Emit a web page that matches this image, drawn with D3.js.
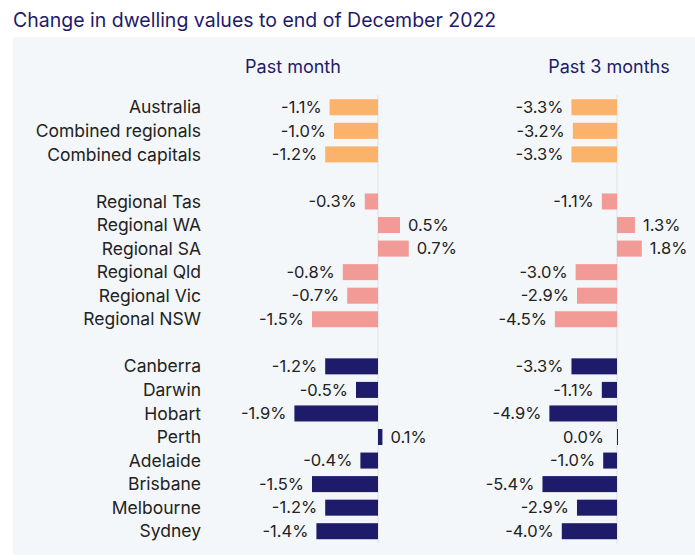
<!DOCTYPE html>
<html><head><meta charset="utf-8">
<script src="https://cdn.jsdelivr.net/npm/d3@7"></script>
<style>body{margin:0;background:#fff}text{font-family:Inter,"Open Sans",sans-serif}</style>
</head><body><svg id="chart" width="695" height="560"></svg>
<script>
const categories = ["Australia","Combined regionals","Combined capitals","",
  "Regional Tas","Regional WA","Regional SA","Regional Qld","Regional Vic","Regional NSW","",
  "Canberra","Darwin","Hobart","Perth","Adelaide","Brisbane","Melbourne","Sydney"];
const pastMonth = [-1.1,-1.0,-1.2,null,-0.3,0.5,0.7,-0.8,-0.7,-1.5,null,-1.2,-0.5,-1.9,0.1,-0.4,-1.5,-1.2,-1.4];
const past3Months = [-3.3,-3.2,-3.3,null,-1.1,1.3,1.8,-3.0,-2.9,-4.5,null,-3.3,-1.1,-4.9,0.0,-1.0,-5.4,-2.9,-4.0];
const groups = ["agg","agg","agg",null,"reg","reg","reg","reg","reg","reg",null,"cap","cap","cap","cap","cap","cap","cap","cap"];
const colors = {agg:"#fbb26b", reg:"#f29b96", cap:"#1e1b6b"};

const svg = d3.select("#chart");
svg.append("rect").attr("x",13).attr("y",37).attr("width",682).attr("height",518).attr("fill","#f4f7f9");
svg.append("text").attr("x",13).attr("y",27).attr("font-size",19.5).attr("fill","#1e1b6b")
  .text("Change in dwelling values to end of December 2022");

const y = d3.scaleBand().domain(d3.range(categories.length)).range([95.5,543]).paddingInner(0.32).paddingOuter(0.16);
const barH = y.bandwidth();

svg.selectAll(".cat").data(categories).enter().append("text")
  .attr("x",201).attr("y",(d,i)=>y(i)+barH/2).attr("dy","0.35em").attr("text-anchor","end")
  .attr("font-size",17.5).attr("fill","#222").text(d=>d);

function panel(values, x0, pxPerPct, title, titleX) {
  const x = d3.scaleLinear().domain([0,1]).range([x0, x0+pxPerPct]);
  svg.append("text").attr("x",titleX).attr("y",73).attr("text-anchor","middle")
    .attr("font-size",18).attr("fill","#1e1b6b").text(title);
  svg.append("line").attr("x1",x0).attr("x2",x0).attr("y1",95).attr("y2",543)
    .attr("stroke","#dde0e3").attr("stroke-width",1);
  const rows = values.map((v,i)=>({v,i})).filter(d=>d.v!==null);
  svg.selectAll(null).data(rows).enter().append("rect")
    .attr("x",d=>Math.min(x(0),x(d.v))).attr("width",d=>Math.max(Math.abs(x(d.v)-x(0)), d.v===0?1:0))
    .attr("y",d=>y(d.i)).attr("height",barH).attr("fill",d=>colors[groups[d.i]]);
  svg.selectAll(null).data(rows).enter().append("text")
    .attr("x",d=>d.v>0 ? x(d.v)+8 : (d.v===0 ? x(0)-13 : x(d.v)-8))
    .attr("y",d=>y(d.i)+barH/2).attr("dy","0.35em")
    .attr("text-anchor",d=>d.v>0?"start":"end").attr("font-size",16.5).attr("fill","#222")
    .text(d=>(d.v<0?"-":"")+Math.abs(d.v).toFixed(1)+"%");
}
panel(pastMonth, 378, 44, "Past month", 293);
panel(past3Months, 617, 13.8, "Past 3 months", 609);
</script></body></html>
